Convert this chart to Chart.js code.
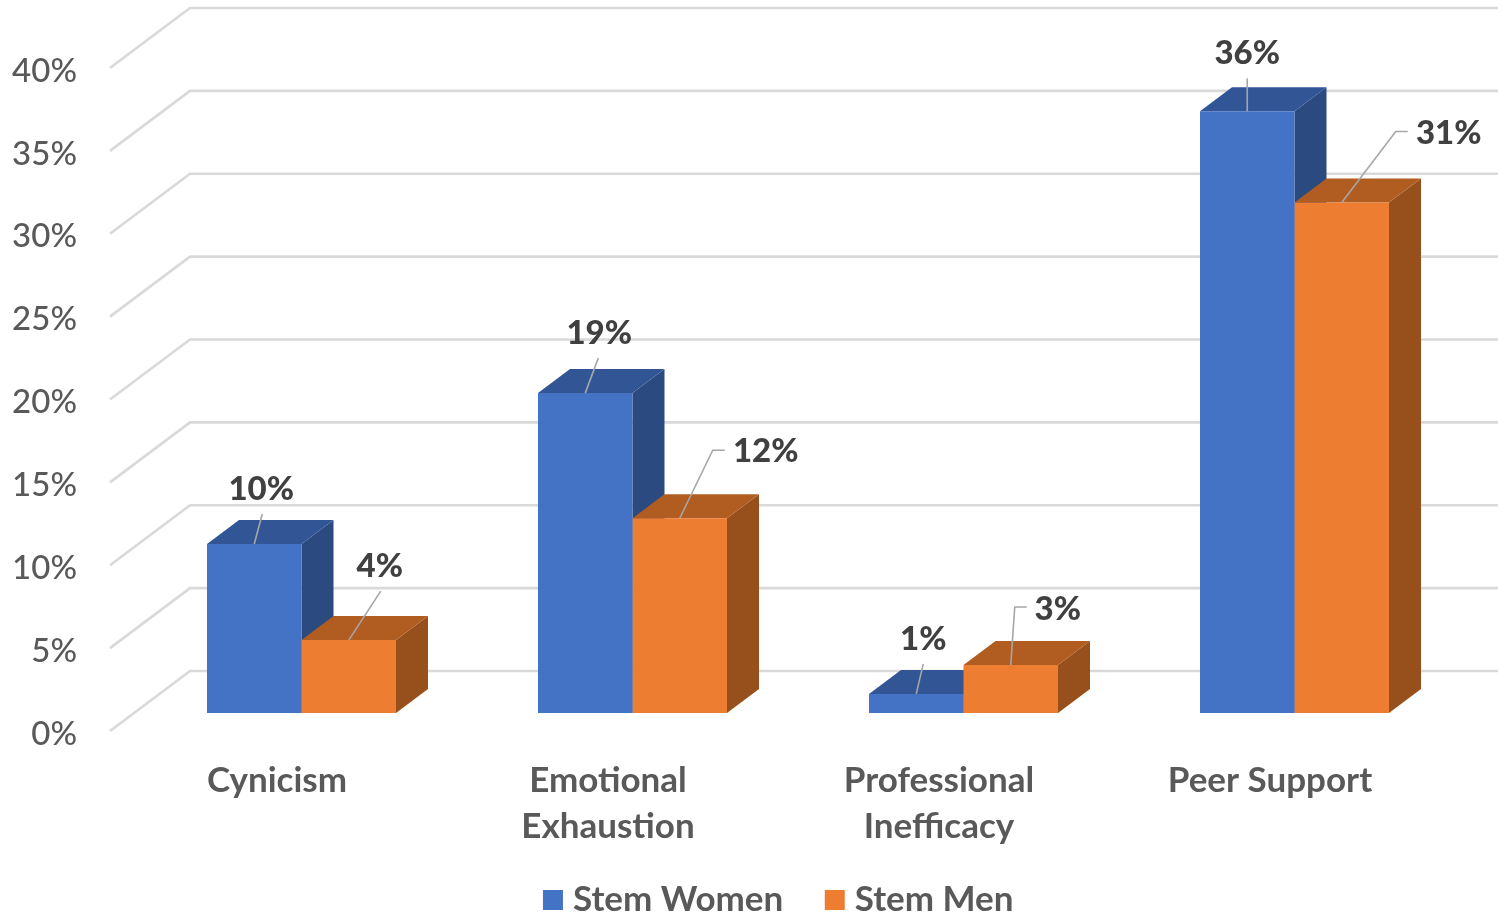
<!DOCTYPE html>
<html>
<head>
<meta charset="utf-8">
<style>html,body{margin:0;padding:0;background:#fff;overflow:hidden}canvas{display:block}</style>
<script src="https://cdn.jsdelivr.net/npm/chart.js@4/dist/chart.umd.min.js"></script>
</head>
<body>
<canvas id="c" width="1498" height="912"></canvas>
<script>
const categories = [["Cynicism"], ["Emotional", "Exhaustion"], ["Professional", "Inefficacy"], ["Peer Support"]];
const stemWomen = [10.2, 19.3, 1.15, 36.3];
const stemMen = [4.4, 11.75, 2.9, 30.8];
const seriesNames = ["Stem Women", "Stem Men"];

const FONT = "Lato, Carlito, sans-serif";
const DEPTH = {dx: 32, dy: -24};
const FRONT = {x: 110, dy: 18};
const WALL = {x: 190, dy: -42};
const LEGEND_SHIFT = {x: 52, y: 15.5};
// callout offsets from the top centre of each bar: text dx, text dy, optional elbow
const callouts = [
  [{tx: 7, ty: -55, ex: 8, ey: -30}, {tx: 31, ty: -74, ex: 32, ey: -49}],
  [{tx: 14, ty: -60, ex: 13, ey: -35}, {tx: 86, ty: -67, ex: 33, ey: -68, kx: 45}],
  [{tx: 7, ty: -55, ex: 7, ey: -30}, {tx: 47, ty: -56, ex: 4, ey: -58, kx: 16}],
  [{tx: 0, ty: -58, ex: 0, ey: -33}, {tx: 107, ty: -69, ex: 54, ey: -71, kx: 66}]
];
const faces = [
  {top: "#325596", side: "#2A4A80"},
  {top: "#B15C21", side: "#97501C"}
];

const poly = (ctx, pts, fill) => {
  ctx.beginPath();
  pts.forEach((p, i) => i ? ctx.lineTo(p[0], p[1]) : ctx.moveTo(p[0], p[1]));
  ctx.closePath();
  ctx.fillStyle = fill;
  ctx.fill();
};

const threeD = {
  id: "threeD",
  afterLayout(chart) {
    // category labels are clipped to the axis box; let them run down over the legend band
    chart.scales.x.bottom = chart.height;
    const lg = chart.legend;
    lg.left += LEGEND_SHIFT.x; lg.right += LEGEND_SHIFT.x;
    lg.top += LEGEND_SHIFT.y; lg.bottom += LEGEND_SHIFT.y;
  },
  beforeDatasetsDraw(chart) {
    const {ctx, scales: {y}} = chart;
    ctx.save();
    ctx.strokeStyle = "#D9D9D9";
    ctx.lineWidth = 2.6;
    y.ticks.forEach(t => {
      const p = y.getPixelForValue(t.value);
      ctx.beginPath();
      ctx.moveTo(FRONT.x, p + FRONT.dy);
      ctx.lineTo(WALL.x, p + WALL.dy);
      ctx.lineTo(chart.width, p + WALL.dy);
      ctx.stroke();
    });
    chart.data.datasets.forEach((ds, d) => {
      chart.getDatasetMeta(d).data.forEach(bar => {
        const l = bar.x - bar.width / 2, r = bar.x + bar.width / 2;
        const {dx, dy} = DEPTH;
        poly(ctx, [[r, bar.y], [r + dx, bar.y + dy], [r + dx, bar.base + dy], [r, bar.base]], faces[d].side);
        poly(ctx, [[l, bar.y], [r, bar.y], [r + dx, bar.y + dy], [l + dx, bar.y + dy]], faces[d].top);
      });
    });
    ctx.restore();
  },
  afterDatasetsDraw(chart) {
    const {ctx} = chart;
    ctx.save();
    chart.data.datasets.forEach((ds, d) => {
      chart.getDatasetMeta(d).data.forEach((bar, i) => {
        const c = callouts[i][d];
        ctx.strokeStyle = "#A6A6A6";
        ctx.lineWidth = 1.6;
        ctx.beginPath();
        ctx.moveTo(bar.x, bar.y);
        ctx.lineTo(bar.x + c.ex, bar.y + c.ey);
        if (c.kx) ctx.lineTo(bar.x + c.kx, bar.y + c.ey);
        ctx.stroke();
        ctx.fillStyle = "#404040";
        ctx.font = "900 33px " + FONT;
        ctx.textAlign = "center";
        ctx.textBaseline = "middle";
        ctx.fillText(Math.round(ds.data[i]) + "%", bar.x + c.tx, bar.y + c.ty);
      });
    });
    ctx.restore();
  }
};

new Chart(document.getElementById("c"), {
  type: "bar",
  data: {
    labels: categories,
    datasets: [
      {label: seriesNames[0], data: stemWomen, backgroundColor: "#4472C4", borderColor: "#4472C4"},
      {label: seriesNames[1], data: stemMen, backgroundColor: "#ED7D31", borderColor: "#ED7D31"}
    ]
  },
  plugins: [threeD],
  options: {
    responsive: false,
    animation: false,
    layout: {padding: {top: 50, left: 0, right: 38, bottom: 0}},
    datasets: {bar: {categoryPercentage: 0.571, barPercentage: 1}},
    plugins: {
      tooltip: {enabled: false},
      legend: {
        position: "bottom",
        labels: {
          usePointStyle: true,
          pointStyle: "rect",
          boxWidth: 5,
          boxHeight: 20,
          padding: 49,
          color: "#595959",
          font: {family: FONT, size: 35, weight: "bold"}
        }
      }
    },
    scales: {
      x: {
        grid: {display: false},
        border: {display: false},
        afterFit(s) { s.height = 105; s.paddingLeft = 0; s.paddingRight = 0; },
        ticks: {
          autoSkip: false,
          maxRotation: 0,
          minRotation: 0,
          labelOffset: -24.5,
          padding: 37,
          color: "#595959",
          font: {family: FONT, size: 35, weight: "bold", lineHeight: 1.3}
        }
      },
      y: {
        min: 0,
        max: 40,
        grid: {display: false},
        border: {display: false},
        afterFit(s) { s.width = 136; s.paddingTop = 0; s.paddingBottom = 0; },
        ticks: {
          stepSize: 5,
          padding: 51,
          labelOffset: 21,
          color: "#595959",
          font: {family: FONT, size: 33, weight: "500"},
          callback: v => v + "%"
        }
      }
    }
  }
});
</script>
</body>
</html>
